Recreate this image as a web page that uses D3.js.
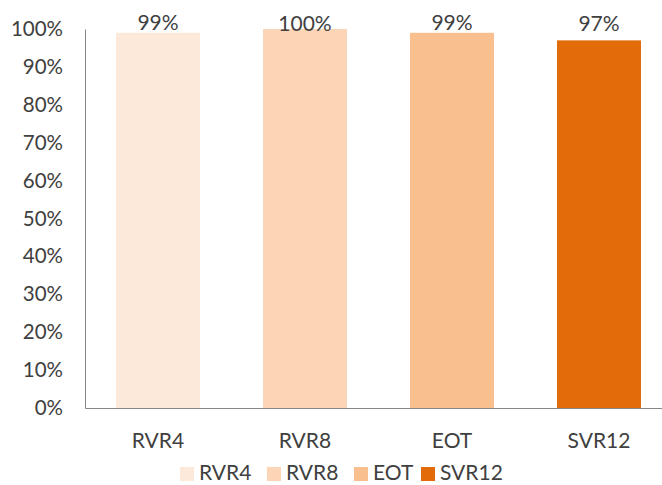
<!DOCTYPE html>
<html><head><meta charset="utf-8">
<script src="https://cdn.jsdelivr.net/npm/d3@7"></script>
<style>body{margin:0;background:#fff}svg{display:block}text{font-family:Lato,"Open Sans",sans-serif;fill:#404040}</style>
</head><body><svg id="c" width="662" height="485"></svg>
<script>
const categories = ["RVR4","RVR8","EOT","SVR12"];
const values = [0.99, 1.00, 0.99, 0.97];
const valueLabels = ["99%","100%","99%","97%"];
const colors = ["#FCE9DA","#FBD5B5","#F9BF8F","#E36C0A"];
const yTicks = [0,0.1,0.2,0.3,0.4,0.5,0.6,0.7,0.8,0.9,1.0];

const svg = d3.select("#c");
const mLeft = 85, mRight = 672, mTop = 29, mBottom = 408;
const x = d3.scaleBand().domain(categories).range([mLeft, mRight]).paddingInner(0.4286).paddingOuter(0.211);
const y = d3.scaleLinear().domain([0,1]).range([mBottom, mTop]);

svg.append("g").selectAll("rect").data(values).join("rect")
  .attr("x",(d,i)=>x(categories[i])).attr("width",x.bandwidth())
  .attr("y",d=>y(d)).attr("height",d=>mBottom-y(d))
  .attr("fill",(d,i)=>colors[i]);

const ya = svg.append("g").attr("transform",`translate(${mLeft},0)`)
  .call(d3.axisLeft(y).tickValues(yTicks).tickFormat(d3.format(".0%")).tickSize(0).tickPadding(22));
ya.select(".domain").attr("stroke","#868686");
ya.selectAll("text").style("font-size","20.5px").attr("fill","#404040").style("font-family","Lato");

const xa = svg.append("g").attr("transform",`translate(0,${mBottom})`)
  .call(d3.axisBottom(x).tickSize(0));
xa.select(".domain").attr("stroke","#868686");
xa.selectAll("text").attr("y",40).attr("dy",0).style("font-size","21px").attr("fill","#404040").style("font-family","Lato");

svg.append("g").selectAll("text").data(values).join("text")
  .attr("x",(d,i)=>x(categories[i])+x.bandwidth()/2).attr("y",d=>Math.min(y(d)-3, y(1)+1.5) + (d>=1?4.5:0))
  .attr("text-anchor","middle").style("font-size","21px")
  .text((d,i)=>valueLabels[i]);

const legendX = [180, 267, 354, 421];
const lg = svg.append("g");
categories.forEach((c,i)=>{
  lg.append("rect").attr("x",legendX[i]).attr("y",467).attr("width",14).attr("height",14).attr("fill",colors[i]);
  lg.append("text").attr("x",legendX[i]+19).attr("y",480).style("font-size","21px").text(c);
});
</script></body></html>
